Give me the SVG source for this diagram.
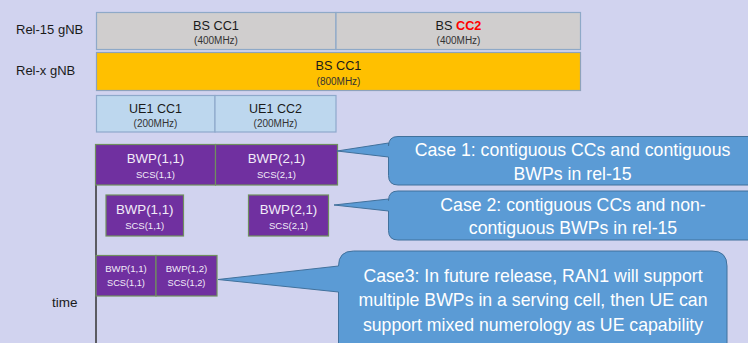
<svg xmlns="http://www.w3.org/2000/svg" width="748" height="343" viewBox="0 0 748 343">
<style>
text{font-family:"Liberation Sans",Arial,sans-serif;}
.lbl{font-size:13px;fill:#1a1a1a;}
.bs{font-size:12.7px;fill:#1a1a1a;text-anchor:middle;}
.mhz{font-size:10px;fill:#333;text-anchor:middle;}
.gray{fill:#D0CECE;stroke:#8EA9C8;stroke-width:1.2;}
.orange{fill:#FFC000;stroke:#8EA2BB;stroke-width:1.2;}
.ue{fill:#BDD7EE;stroke:#8EA9CB;stroke-width:1.2;}
.bwp{fill:#7030A0;stroke:#6F8F5E;stroke-width:1.2;}
.bt{fill:#F2ECF8;text-anchor:middle;}
.call{fill:#5B9BD5;stroke:#41719C;stroke-width:1;}
.ct{font-size:17.7px;fill:#FFFFFF;text-anchor:middle;}
</style>
<rect width="748" height="343" fill="#D1D3EF"/>
<text class="lbl" x="16" y="34">Rel-15 gNB</text>
<text class="lbl" x="16" y="75">Rel-x gNB</text>
<text class="lbl" x="52" y="307" style="font-size:13.5px">time</text>

<g id="connectors">
<line x1="96" y1="185" x2="96" y2="343" stroke="#333" stroke-width="1.5"/>
</g>

<g id="bs-cc1-rel15">
<rect class="gray" x="96.5" y="12.5" width="239.5" height="37"/>
<text class="bs" x="216" y="29.5">BS CC1</text>
<text class="mhz" x="216" y="43.5">(400MHz)</text>
</g>
<g id="bs-cc2-rel15">
<rect class="gray" x="336" y="12.5" width="244.5" height="37"/>
<text class="bs" x="458.5" y="29.5">BS <tspan fill="#FF0000" font-weight="bold">CC2</tspan></text>
<text class="mhz" x="458.5" y="43.5">(400MHz)</text>
</g>
<g id="bs-cc1-relx">
<rect class="orange" x="96.5" y="52.5" width="484" height="38"/>
<text class="bs" x="338.5" y="70">BS CC1</text>
<text class="mhz" x="338.5" y="85">(800MHz)</text>
</g>
<g id="ue1-cc1">
<rect class="ue" x="96.5" y="95.5" width="118.5" height="36.5"/>
<text class="bs" x="155.5" y="113" style="font-size:12.5px">UE1 CC1</text>
<text class="mhz" x="155.5" y="127">(200MHz)</text>
</g>
<g id="ue1-cc2">
<rect class="ue" x="215" y="95.5" width="121" height="36.5"/>
<text class="bs" x="275.5" y="113" style="font-size:12.5px">UE1 CC2</text>
<text class="mhz" x="275.5" y="127">(200MHz)</text>
</g>

<g id="case1-bwp11">
<rect class="bwp" x="95.5" y="144.5" width="120" height="40.5"/>
<text class="bt" x="155.5" y="162.5" font-size="13.3">BWP(1,1)</text>
<text class="bt" x="155.5" y="177.5" font-size="9.5">SCS(1,1)</text>
</g>
<g id="case1-bwp21">
<rect class="bwp" x="215.5" y="144.5" width="122" height="40.5"/>
<text class="bt" x="276.5" y="162.5" font-size="13.3">BWP(2,1)</text>
<text class="bt" x="276.5" y="177.5" font-size="9.5">SCS(2,1)</text>
</g>
<g id="case2-bwp11">
<rect class="bwp" x="106" y="195" width="77.5" height="41"/>
<text class="bt" x="144.7" y="213.5" font-size="13.3">BWP(1,1)</text>
<text class="bt" x="144.7" y="229" font-size="9.5">SCS(1,1)</text>
</g>
<g id="case2-bwp21">
<rect class="bwp" x="248.5" y="195" width="80" height="41"/>
<text class="bt" x="288.5" y="213.5" font-size="13.3">BWP(2,1)</text>
<text class="bt" x="288.5" y="229" font-size="9.5">SCS(2,1)</text>
</g>
<g id="case3-bwp11">
<rect class="bwp" x="96" y="255.5" width="60" height="40.5"/>
<text class="bt" x="126" y="272" font-size="9.6">BWP(1,1)</text>
<text class="bt" x="126" y="286" font-size="9.2">SCS(1,1)</text>
</g>
<g id="case3-bwp12">
<rect class="bwp" x="156" y="255.5" width="61" height="40.5"/>
<text class="bt" x="186.5" y="272" font-size="9.6">BWP(1,2)</text>
<text class="bt" x="186.5" y="286" font-size="9.2">SCS(1,2)</text>
</g>

<g id="callout-case1">
<path class="call" d="M337,151 L388.5,143 L388.5,146 Q388.5,136.5 398,136.5 L760,136.5 L760,185 L398,185 Q388.5,185 388.5,175.5 L388.5,157 Z"/>
<text class="ct" x="572.5" y="156">Case 1: contiguous CCs and contiguous</text>
<text class="ct" x="572.5" y="179.5">BWPs in rel-15</text>
</g>
<g id="callout-case2">
<path class="call" d="M334,205 L388.5,199 L388.5,200.5 Q388.5,191 398,191 L760,191 L760,240 L398,240 Q388.5,240 388.5,230.5 L388.5,211 Z"/>
<text class="ct" x="573" y="211">Case 2: contiguous CCs and non-</text>
<text class="ct" x="573" y="234">contiguous BWPs in rel-15</text>
</g>
<g id="callout-case3">
<path class="call" d="M218,279.5 L338.5,266 L338.5,266 Q338.5,251 353.5,251 L712,251 Q727,251 727,266 L727,360 L338.5,360 L338.5,292 Z"/>
<text class="ct" x="533" y="281.5">Case3: In future release, RAN1 will support</text>
<text class="ct" x="533" y="306">multiple BWPs in a serving cell, then UE can</text>
<text class="ct" x="533" y="330.5">support mixed numerology as UE capability</text>
</g>
</svg>
